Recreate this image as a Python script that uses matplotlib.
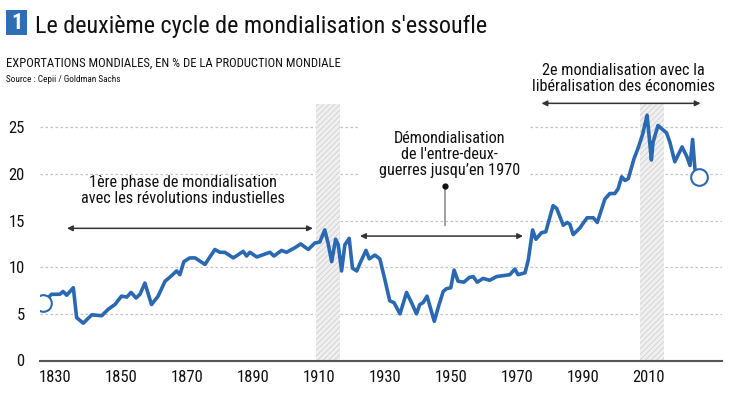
import matplotlib.pyplot as plt
from matplotlib.patches import Rectangle

plt.rcParams['font.family'] = ['Roboto Condensed', 'Liberation Sans Narrow', 'Roboto', 'DejaVu Sans']
plt.rcParams['hatch.linewidth'] = 0.6

# exports as % of world output
years = [1826.5, 1829.0, 1831.5, 1832.5, 1833.6, 1835.6, 1836.6, 1838.6, 1841.2, 1844.2,
         1846.2, 1848.2, 1850.2, 1851.8, 1853.1, 1854.6, 1855.8, 1857.3, 1859.3, 1861.3,
         1863.4, 1865.4, 1866.9, 1867.9, 1869.1, 1870.9, 1872.5, 1875.5, 1878.5, 1880.0,
         1881.5, 1884.1, 1887.1, 1888.1, 1889.1, 1891.2, 1895.2, 1896.4, 1898.7, 1900.2,
         1902.8, 1904.5, 1906.8, 1908.8, 1910.3, 1911.8, 1912.8, 1913.9, 1915.1, 1915.9,
         1916.9, 1917.9, 1919.2, 1920.2, 1921.5, 1922.7, 1924.3, 1925.3, 1927.0, 1928.5,
         1930.0, 1931.5, 1932.8, 1934.6, 1936.6, 1938.1, 1939.6, 1940.6, 1941.6, 1942.8,
         1945.0, 1946.2, 1947.7, 1948.7, 1950.0, 1951.0, 1952.2, 1954.0, 1955.6, 1956.8,
         1958.0, 1959.8, 1961.8, 1963.9, 1965.9, 1967.9, 1969.4, 1970.4, 1972.5, 1973.5,
         1974.8, 1975.8, 1977.5, 1978.8, 1981.0, 1982.1, 1984.1, 1985.3, 1986.1, 1987.1,
         1989.1, 1991.3, 1993.2, 1994.4, 1996.7, 1998.2, 1999.7, 2000.7, 2001.8, 2002.8,
         2003.8, 2005.5, 2006.8, 2008.1, 2009.5, 2010.8, 2011.3, 2012.8, 2014.4, 2015.4,
         2016.4, 2017.9, 2020.1, 2021.5, 2022.5, 2023.3, 2024.0, 2025.3]
values = [6.2, 7.1, 7.1, 7.4, 7.0, 7.8, 4.6, 4.0, 4.9, 4.8,
          5.5, 6.0, 6.9, 6.8, 7.3, 6.7, 7.1, 8.3, 6.0, 6.9,
          8.5, 9.1, 9.6, 9.2, 10.6, 11.0, 11.0, 10.3, 11.9, 11.6,
          11.6, 11.0, 11.7, 11.2, 11.6, 11.1, 11.6, 11.2, 11.8, 11.6,
          12.1, 12.5, 11.9, 12.6, 12.7, 14.0, 12.6, 10.6, 13.0, 12.4,
          9.6, 12.4, 13.1, 9.9, 9.6, 10.6, 11.8, 10.9, 11.3, 10.9,
          8.7, 6.4, 6.2, 5.0, 7.3, 6.2, 5.0, 6.0, 6.2, 6.9,
          4.2, 5.7, 7.4, 7.7, 7.8, 9.7, 8.5, 8.4, 8.9, 9.0,
          8.4, 8.8, 8.6, 9.0, 9.1, 9.2, 9.8, 9.2, 9.4, 10.8,
          14.0, 13.0, 13.7, 13.8, 16.6, 16.3, 14.5, 14.8, 14.6, 13.5,
          14.2, 15.3, 15.3, 14.8, 17.3, 17.9, 17.9, 18.4, 19.7, 19.3,
          19.5, 21.6, 22.8, 24.2, 26.3, 21.5, 23.4, 25.2, 24.7, 24.4,
          23.4, 21.3, 22.9, 21.9, 20.9, 23.7, 20.5, 19.7]

xticks = [1830, 1850, 1870, 1890, 1910, 1930, 1950, 1970, 1990, 2010]
yticks = [0, 5, 10, 15, 20, 25]
bands = [(1909.1, 1916.4), (2007.3, 2014.6)]

blue = '#2a69b1'

fig = plt.figure(figsize=(7.34, 3.94), dpi=100)
ax = fig.add_axes([40 / 734, 1 - 360.5 / 394, 682 / 734, 256.5 / 394])

ax.set_xlim(1825.5, 2032.2)
ax.set_ylim(0, 27.5)
ax.set_xticks(xticks)
ax.set_yticks(yticks)
ax.tick_params(length=0, labelsize=12, colors='#111')
ax.tick_params(axis='y', pad=11)
ax.tick_params(axis='x', pad=7)
for s in ['top', 'right', 'left']:
    ax.spines[s].set_visible(False)
ax.spines['bottom'].set_color('#555555')
ax.spines['bottom'].set_linewidth(1.5)
ax.spines['bottom'].set_zorder(5)
ax.yaxis.grid(True, color='#c4c4c4', linestyle=(0, (2, 2)), linewidth=0.9)

for a, b in bands:
    ax.axvspan(a, b, facecolor='#f0f0f0', edgecolor='#cfcfcf', hatch='//////',
               linewidth=0, zorder=1.7)

# white boxes behind the annotations hide parts of the grid
ax.add_patch(Rectangle((1825.5, 13.6), 83.6, 2.6, facecolor='white', edgecolor='none', zorder=1.6))
ax.add_patch(Rectangle((1921.8, 18.9), 52.1, 8.6, facecolor='white', edgecolor='none', zorder=1.6))

ax.plot(years, values, color=blue, lw=2.6, solid_joinstyle='round', zorder=3)
ax.plot([years[0], years[-1]], [values[0], values[-1]], 'o', ms=12,
        mfc='white', mec=blue, mew=1.5, zorder=4)

arrow = dict(arrowstyle='<|-|>', color='#333333', lw=1.1, mutation_scale=8, shrinkA=0, shrinkB=0)
ax.annotate('', xy=(1908.2, 14.17), xytext=(1833.7, 14.17), arrowprops=arrow, annotation_clip=False)
ax.annotate('', xy=(1971.9, 13.34), xytext=(1922.5, 13.34), arrowprops=arrow, annotation_clip=False)
ax.annotate('', xy=(2025.7, 27.57), xytext=(1977.5, 27.57), arrowprops=arrow, annotation_clip=False)

ax.text(1868.8, 18.2, '1ère phase de mondialisation\navec les révolutions industielles',
        ha='center', va='center', fontsize=11.7, color='#111', linespacing=1.1)
ax.text(1949.7, 22.1, "Démondialisation\nde l'entre-deux-\nguerres jusqu’en 1970",
        ha='center', va='center', fontsize=11.7, color='#111', linespacing=1.1)
ax.text(2002.4, 30.2, '2e mondialisation avec la\nlibéralisation des économies',
        ha='center', va='center', fontsize=11.7, color='#111', linespacing=1.1, clip_on=False)

ax.plot([1948.2, 1948.2], [18.7, 14.5], color='#999999', lw=1.3, zorder=2)
ax.plot(1948.2, 18.7, 'o', color='#111', ms=3.5, zorder=2)

# header
fig.patches.append(Rectangle((6 / 734, 1 - 35 / 394), 21 / 734, 25 / 394,
                             transform=fig.transFigure, facecolor='#2f6db5', edgecolor='none'))
fig.text(16.5 / 734, 1 - 23 / 394, '1', color='white', fontsize=16, fontweight='bold',
         ha='center', va='center')
fig.text(35 / 734, 1 - 33 / 394, "Le deuxième cycle de mondialisation s'essoufle",
         fontsize=17.4, color='#111', va='baseline')
fig.text(6 / 734, 1 - 67 / 394, 'EXPORTATIONS MONDIALES, EN % DE LA PRODUCTION MONDIALE',
         fontsize=9.1, color='#111', va='baseline')
fig.text(6 / 734, 1 - 82 / 394, 'Source : Cepii / Goldman Sachs',
         fontsize=6.7, color='#111', va='baseline')

fig.savefig('out.png', dpi=100)
